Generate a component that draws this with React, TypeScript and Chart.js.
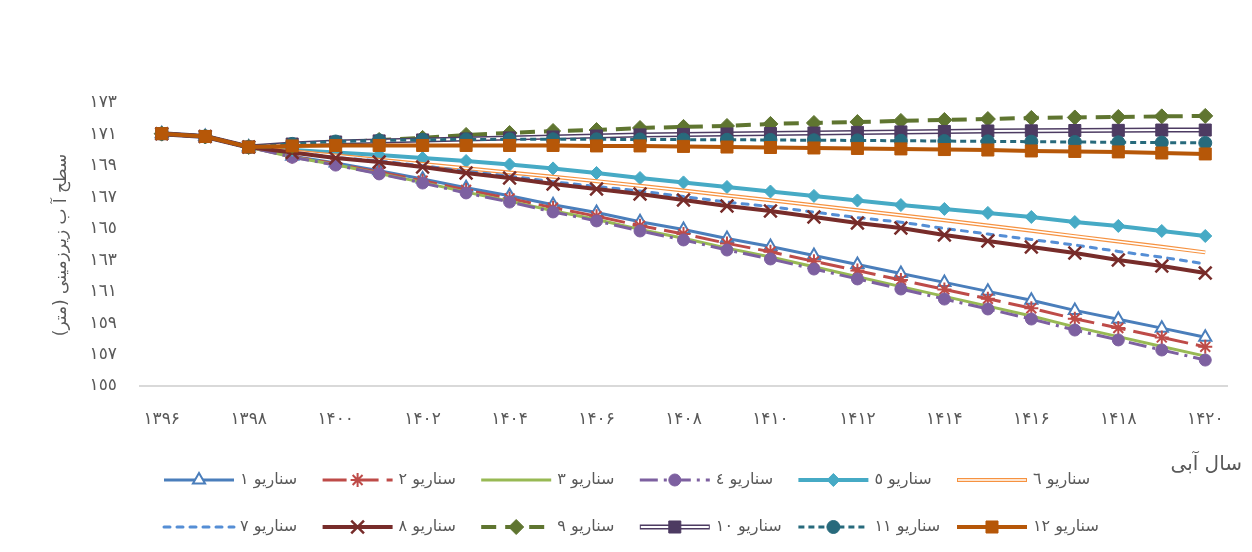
import React, { useEffect, useRef } from "react";
import { Chart, registerables } from "chart.js";

Chart.register(...registerables);

// ---------- data ----------
const yearLabels = [
  "۱۳۹۶", "۱۳۹۷", "۱۳۹۸", "۱۳۹۹", "۱۴۰۰", "۱۴۰۱", "۱۴۰۲", "۱۴۰۳", "۱۴۰۴",
  "۱۴۰۵", "۱۴۰۶", "۱۴۰۷", "۱۴۰۸", "۱۴۰۹", "۱۴۱۰", "۱۴۱۱", "۱۴۱۲", "۱۴۱۳",
  "۱۴۱۴", "۱۴۱۵", "۱۴۱۶", "۱۴۱۷", "۱۴۱۸", "۱۴۱۹", "۱۴۲۰",
];

const yTickLabels = ["۱٥٥", "۱٥۷", "۱٥۹", "۱٦۱", "۱٦۳", "۱٦٥", "۱٦۷", "۱٦۹", "۱۷۱", "۱۷۳"];

const scenarioNames = [
  "سناریو ۱", "سناریو ۲", "سناریو ۳", "سناریو ٤", "سناریو ٥", "سناریو ٦",
  "سناریو ۷", "سناریو ۸", "سناریو ۹", "سناریو ۱۰", "سناریو ۱۱", "سناریو ۱۲",
];

const xTitle = "سال آبی";
const yTitle = "سطح آ ب زیرزمینی (متر)";

const s1 = [171.05, 170.87, 170.2, 169.62, 169.18, 168.69, 168.17, 167.61, 167.1, 166.53, 166.03, 165.45, 164.95, 164.38, 163.87, 163.3, 162.73, 162.16, 161.59, 161.02, 160.45, 159.81, 159.25, 158.68, 158.1];
const s2 = [171.05, 170.87, 170.2, 169.59, 169.13, 168.6, 168.06, 167.47, 166.93, 166.34, 165.8, 165.2, 164.67, 164.07, 163.54, 162.93, 162.34, 161.74, 161.14, 160.55, 159.94, 159.28, 158.69, 158.09, 157.49];
const s3 = [171.05, 170.87, 170.2, 169.56, 169.07, 168.52, 167.95, 167.33, 166.76, 166.15, 165.59, 164.96, 164.4, 163.77, 163.21, 162.58, 161.95, 161.32, 160.7, 160.08, 159.45, 158.76, 158.14, 157.51, 156.9];
const s4 = [171.05, 170.87, 170.2, 169.55, 169.05, 168.49, 167.91, 167.28, 166.7, 166.07, 165.5, 164.86, 164.29, 163.65, 163.08, 162.44, 161.81, 161.17, 160.53, 159.9, 159.26, 158.56, 157.93, 157.29, 156.65];
const s5 = [171.05, 170.87, 170.2, 170.01, 169.85, 169.69, 169.5, 169.31, 169.09, 168.84, 168.55, 168.23, 167.95, 167.66, 167.37, 167.09, 166.8, 166.51, 166.26, 166.01, 165.75, 165.43, 165.18, 164.86, 164.54];
const s6 = [171.05, 170.87, 170.2, 169.93, 169.66, 169.39, 169.12, 168.85, 168.58, 168.31, 168.03, 167.73, 167.43, 167.12, 166.81, 166.5, 166.18, 165.86, 165.54, 165.21, 164.87, 164.53, 164.19, 163.85, 163.5];
const s7 = [171.05, 170.87, 170.2, 169.87, 169.54, 169.31, 169.01, 168.65, 168.35, 167.99, 167.69, 167.4, 167.05, 166.7, 166.41, 166.06, 165.71, 165.42, 165.02, 164.67, 164.32, 163.97, 163.56, 163.19, 162.77];
const s8 = [171.05, 170.87, 170.2, 169.85, 169.5, 169.25, 168.93, 168.55, 168.23, 167.85, 167.53, 167.21, 166.83, 166.45, 166.13, 165.75, 165.37, 165.05, 164.61, 164.22, 163.84, 163.46, 163.02, 162.63, 162.19];
const s9 = [171.05, 170.87, 170.2, 170.27, 170.46, 170.65, 170.78, 170.97, 171.09, 171.22, 171.28, 171.41, 171.48, 171.54, 171.67, 171.73, 171.79, 171.86, 171.92, 171.98, 172.05, 172.08, 172.11, 172.15, 172.18];
const s10 = [171.05, 170.87, 170.2, 170.39, 170.52, 170.59, 170.65, 170.71, 170.78, 170.84, 170.9, 170.97, 171.0, 171.03, 171.06, 171.09, 171.13, 171.16, 171.19, 171.22, 171.23, 171.25, 171.26, 171.28, 171.28];
const s11 = [171.05, 170.87, 170.2, 170.4, 170.55, 170.62, 170.66, 170.68, 170.69, 170.69, 170.69, 170.68, 170.67, 170.66, 170.65, 170.63, 170.62, 170.6, 170.58, 170.56, 170.54, 170.52, 170.5, 170.48, 170.46];
const s12 = [171.05, 170.87, 170.2, 170.27, 170.3, 170.3, 170.3, 170.3, 170.3, 170.3, 170.27, 170.27, 170.24, 170.2, 170.17, 170.14, 170.11, 170.08, 170.04, 170.01, 169.95, 169.92, 169.89, 169.82, 169.76];

const seriesList = [s1, s2, s3, s4, s5, s6, s7, s8, s9, s10, s11, s12];

// ---------- styles ----------
const FONT = "'DejaVu Sans', sans-serif";
const TEXT = "#595959";

type Sty = {
  color: string;
  width: number;
  dash: number[];
  cap?: CanvasLineCap;
  marker?: string;
  radius?: number;
  fill?: string;
  bw?: number;
  inner?: number;
};

const styles: Sty[] = [
  { color: "#4A7EBB", width: 3, dash: [], marker: "triangle", radius: 7, fill: "#FFFFFF", bw: 2 },
  { color: "#BE4B48", width: 3, dash: [24, 8], marker: "star", radius: 7, fill: "#BE4B48", bw: 2 },
  { color: "#98B954", width: 3, dash: [] },
  { color: "#7D60A0", width: 3, dash: [18, 6, 3, 6], marker: "circle", radius: 6, fill: "#7D60A0", bw: 1 },
  { color: "#46AAC5", width: 4, dash: [], marker: "rectRot", radius: 6.5, fill: "#46AAC5", bw: 1 },
  { color: "#F69240", width: 4, dash: [], inner: 1.6 },
  { color: "#558ED5", width: 3, dash: [6, 7], cap: "round" },
  { color: "#772C2A", width: 4, dash: [], marker: "crossRot", radius: 9, fill: "#772C2A", bw: 2.5 },
  { color: "#5F7530", width: 4, dash: [15, 9], marker: "rectRot", radius: 7.5, fill: "#5F7530", bw: 1 },
  { color: "#4D3B62", width: 5, dash: [], inner: 2, marker: "rect", radius: 8.5, fill: "#4D3B62", bw: 1 },
  { color: "#276A7C", width: 3, dash: [6, 4], marker: "circle", radius: 6.5, fill: "#276A7C", bw: 1 },
  { color: "#B65708", width: 4, dash: [], marker: "rect", radius: 8.5, fill: "#B65708", bw: 1 },
];

function drawMarker(ctx: CanvasRenderingContext2D, kind: string, x: number, y: number, r: number, fill: string, stroke: string, bw: number) {
  ctx.save();
  ctx.setLineDash([]);
  ctx.lineWidth = bw;
  ctx.strokeStyle = stroke;
  ctx.fillStyle = fill;
  ctx.beginPath();
  const T = (2 * Math.PI) / 3;
  switch (kind) {
    case "triangle": {
      let a = 0;
      ctx.moveTo(x + Math.sin(a) * r, y - Math.cos(a) * r);
      a += T;
      ctx.lineTo(x + Math.sin(a) * r, y - Math.cos(a) * r);
      a += T;
      ctx.lineTo(x + Math.sin(a) * r, y - Math.cos(a) * r);
      ctx.closePath();
      ctx.fill();
      ctx.stroke();
      break;
    }
    case "circle":
      ctx.arc(x, y, r, 0, Math.PI * 2);
      ctx.fill();
      ctx.stroke();
      break;
    case "rect": {
      const s = Math.SQRT1_2 * r;
      ctx.rect(x - s, y - s, 2 * s, 2 * s);
      ctx.fill();
      ctx.stroke();
      break;
    }
    case "rectRot":
      ctx.moveTo(x - r, y);
      ctx.lineTo(x, y - r);
      ctx.lineTo(x + r, y);
      ctx.lineTo(x, y + r);
      ctx.closePath();
      ctx.fill();
      ctx.stroke();
      break;
    case "crossRot": {
      const d = Math.SQRT1_2 * r;
      ctx.moveTo(x - d, y - d);
      ctx.lineTo(x + d, y + d);
      ctx.moveTo(x - d, y + d);
      ctx.lineTo(x + d, y - d);
      ctx.stroke();
      break;
    }
    case "star": {
      const d = Math.SQRT1_2 * r;
      ctx.moveTo(x - r, y);
      ctx.lineTo(x + r, y);
      ctx.moveTo(x, y - r);
      ctx.lineTo(x, y + r);
      ctx.moveTo(x - d, y - d);
      ctx.lineTo(x + d, y + d);
      ctx.moveTo(x - d, y + d);
      ctx.lineTo(x + d, y - d);
      ctx.stroke();
      break;
    }
  }
  ctx.restore();
}

const overlayPlugin = {
  id: "overlay",
  afterDraw(chart: any) {
    const ctx: CanvasRenderingContext2D = chart.ctx;
    ctx.save();
    ctx.fillStyle = TEXT;
    (ctx as any).direction = "rtl";

    // y title
    ctx.save();
    ctx.translate(62, 245);
    ctx.rotate(-Math.PI / 2);
    ctx.font = `17px ${FONT}`;
    ctx.textAlign = "center";
    ctx.textBaseline = "middle";
    ctx.fillText(yTitle, 0, 0);
    ctx.restore();

    // x title
    ctx.font = `20px ${FONT}`;
    ctx.textAlign = "right";
    ctx.textBaseline = "middle";
    ctx.fillText(xTitle, 1242, 465);

    // legend
    scenarioNames.forEach((name, i) => {
      const st = styles[i];
      const col = i % 6;
      const row = Math.floor(i / 6);
      const x0 = 164 + col * 158.6;
      const y = row === 0 ? 480 : 527;
      ctx.save();
      ctx.lineCap = st.cap || "butt";
      ctx.strokeStyle = st.color;
      ctx.lineWidth = st.width;
      ctx.setLineDash(st.dash);
      ctx.beginPath();
      ctx.moveTo(x0, y);
      ctx.lineTo(x0 + 70, y);
      ctx.stroke();
      if (st.inner) {
        ctx.setLineDash([]);
        ctx.strokeStyle = "#FFFFFF";
        ctx.lineWidth = st.inner;
        ctx.beginPath();
        ctx.moveTo(x0 + 1, y);
        ctx.lineTo(x0 + 69, y);
        ctx.stroke();
      }
      if (st.marker) {
        drawMarker(ctx, st.marker, x0 + 35, y, st.radius || 6, st.fill || st.color, st.color, st.bw || 1);
      }
      ctx.fillStyle = TEXT;
      ctx.font = `16px ${FONT}`;
      ctx.textAlign = "left";
      ctx.textBaseline = "middle";
      (ctx as any).direction = "rtl";
      ctx.fillText(name, x0 + 76, y);
      ctx.restore();
    });

    ctx.restore();
  },
};

export default function App() {
  const canvasRef = useRef<HTMLCanvasElement | null>(null);

  useEffect(() => {
    if (!canvasRef.current) return;
    const datasets: any[] = [];
    seriesList.forEach((data, i) => {
      const st = styles[i];
      const base: any = {
        label: scenarioNames[i],
        data,
        fill: false,
        tension: 0,
        borderColor: st.color,
        borderWidth: st.width,
        borderDash: st.dash,
        borderCapStyle: st.cap || "butt",
        borderJoinStyle: "round",
        pointRadius: 0,
        pointHoverRadius: 0,
      };
      const markerProps: any = st.marker
        ? {
            pointStyle: st.marker,
            pointRadius: st.radius,
            pointHoverRadius: st.radius,
            pointBackgroundColor: st.fill,
            pointBorderColor: st.color,
            pointBorderWidth: st.bw,
          }
        : {};
      if (st.inner) {
        datasets.push({ ...base });
        datasets.push({ ...base, borderColor: "#FFFFFF", borderWidth: st.inner, borderDash: [] });
        if (st.marker) datasets.push({ ...base, ...markerProps, showLine: false });
      } else {
        datasets.push({ ...base, ...markerProps });
      }
    });
    datasets.forEach((d, k) => {
      d.order = datasets.length - k;
    });

    const chart = new Chart(canvasRef.current, {
      type: "line",
      data: { labels: yearLabels, datasets },
      options: {
        animation: false,
        responsive: true,
        maintainAspectRatio: false,
        events: [],
        layout: { padding: { left: 0, right: 25, top: 103, bottom: 0 } },
        plugins: { legend: { display: false }, tooltip: { enabled: false }, title: { display: false } },
        scales: {
          x: {
            type: "category",
            offset: true,
            grid: { display: false, drawTicks: false },
            border: { display: true, color: "#D9D9D9", width: 2 },
            ticks: {
              autoSkip: false,
              maxRotation: 0,
              minRotation: 0,
              padding: 23,
              color: TEXT,
              font: { family: FONT, size: 17 },
              callback: (_v: any, idx: number) => (idx % 2 === 0 ? yearLabels[idx] : ""),
            },
            afterFit: (scale: any) => {
              scale.height = 166;
            },
          },
          y: {
            min: 155,
            max: 173,
            grid: { display: false, drawTicks: false },
            border: { display: false },
            ticks: {
              stepSize: 2,
              padding: 23,
              color: TEXT,
              font: { family: FONT, size: 17 },
              callback: (v: any) => yTickLabels[Math.round((Number(v) - 155) / 2)] ?? "",
            },
            afterFit: (scale: any) => {
              scale.width = 140;
            },
          },
        },
      },
      plugins: [overlayPlugin],
    });
    return () => chart.destroy();
  }, []);

  return (
    <div style={{ position: "fixed", left: 0, top: 0, width: 1252, height: 552, background: "#FFFFFF" }}>
      <canvas ref={canvasRef} />
    </div>
  );
}
